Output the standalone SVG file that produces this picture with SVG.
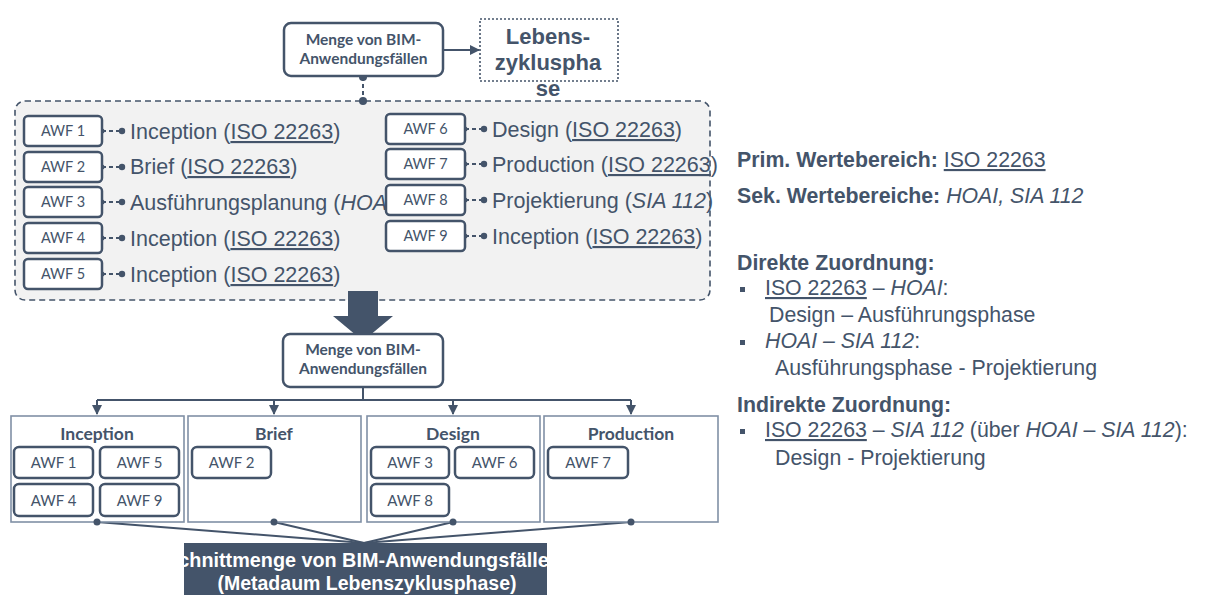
<svg xmlns="http://www.w3.org/2000/svg" width="1209" height="595" viewBox="0 0 1209 595">
<defs>
<style>
.t{fill:#44546A;font-family:"Liberation Sans",Arial,sans-serif}
.lab{font-size:21.5px}
.rt{font-size:21.3px}
.b{font-weight:bold}
.i{font-style:italic}
.u{text-decoration:underline}
.c{font-family:Lato,"Open Sans",sans-serif;fill:#44546A}
.awf{fill:#fff;stroke:#44546A;stroke-width:2.5}
.col{fill:#fff;stroke:#8090A6;stroke-width:1.6}
.ln{stroke:#44546A;stroke-width:2;fill:none}
.dl{stroke:#44546A;stroke-width:2;fill:none;stroke-dasharray:4 3}
.dot{fill:#44546A}
</style>
<marker id="ah" viewBox="0 0 10 10" refX="9" refY="5" markerWidth="5" markerHeight="5" orient="auto">
<path d="M0,0 L10,5 L0,10 z" fill="#44546A"/>
</marker>
</defs>
<rect width="1209" height="595" fill="#fff"/>

<g id="container">
<rect x="15" y="101" width="695" height="199" rx="10" fill="#F2F2F2"/>
</g>

<g id="connectors">
<line class="ln" x1="443" y1="50" x2="479" y2="50" marker-end="url(#ah)"/>
<line class="dl" x1="363" y1="77" x2="363" y2="101"/>
<circle class="dot" cx="363" cy="77" r="4"/>
<circle class="dot" cx="363" cy="101" r="4"/>
<g>
<line class="dl" x1="102" y1="131" x2="122" y2="131"/><circle class="dot" cx="102" cy="131" r="2.5"/><circle class="dot" cx="122" cy="131" r="3.2"/>
<line class="dl" x1="102" y1="167" x2="122" y2="167"/><circle class="dot" cx="102" cy="167" r="2.5"/><circle class="dot" cx="122" cy="167" r="3.2"/>
<line class="dl" x1="102" y1="202" x2="122" y2="202"/><circle class="dot" cx="102" cy="202" r="2.5"/><circle class="dot" cx="122" cy="202" r="3.2"/>
<line class="dl" x1="102" y1="238" x2="122" y2="238"/><circle class="dot" cx="102" cy="238" r="2.5"/><circle class="dot" cx="122" cy="238" r="3.2"/>
<line class="dl" x1="102" y1="274" x2="122" y2="274"/><circle class="dot" cx="102" cy="274" r="2.5"/><circle class="dot" cx="122" cy="274" r="3.2"/>
</g>
<g>
<line class="dl" x1="465" y1="129" x2="484" y2="129"/><circle class="dot" cx="465" cy="129" r="2.5"/><circle class="dot" cx="484" cy="129" r="3.2"/>
<line class="dl" x1="465" y1="164" x2="484" y2="164"/><circle class="dot" cx="465" cy="164" r="2.5"/><circle class="dot" cx="484" cy="164" r="3.2"/>
<line class="dl" x1="465" y1="200" x2="484" y2="200"/><circle class="dot" cx="465" cy="200" r="2.5"/><circle class="dot" cx="484" cy="200" r="3.2"/>
<line class="dl" x1="465" y1="236" x2="484" y2="236"/><circle class="dot" cx="465" cy="236" r="2.5"/><circle class="dot" cx="484" cy="236" r="3.2"/>
</g>
<polyline class="ln" points="363,387 363,400"/>
<line class="ln" x1="97" y1="400" x2="631" y2="400"/>
<line class="ln" x1="97" y1="400" x2="97" y2="414" marker-end="url(#ah)"/>
<line class="ln" x1="274" y1="400" x2="274" y2="414" marker-end="url(#ah)"/>
<line class="ln" x1="453" y1="400" x2="453" y2="414" marker-end="url(#ah)"/>
<line class="ln" x1="631" y1="400" x2="631" y2="414" marker-end="url(#ah)"/>
<line class="ln" x1="97" y1="522" x2="364" y2="543"/>
<line class="ln" x1="274" y1="522" x2="364" y2="543"/>
<line class="ln" x1="453" y1="522" x2="364" y2="543"/>
<line class="ln" x1="631" y1="522" x2="364" y2="543"/>
</g>

<g id="menge-top">
<rect x="284" y="23" width="159" height="53" rx="7" fill="#fff" stroke="#44546A" stroke-width="2.5"/>
<text class="c" x="363.5" y="45" font-size="15.5" font-weight="bold" text-anchor="middle">Menge von BIM-</text>
<text class="c" x="363.5" y="64" font-size="15.5" font-weight="bold" text-anchor="middle">Anwendungsfällen</text>
</g>

<g id="lebenszyklusphase">
<rect x="480" y="19" width="138" height="62" fill="#fff" stroke="#44546A" stroke-width="1.6" stroke-dasharray="2 2"/>
<text class="t b" x="548" y="44" font-size="22" text-anchor="middle">Lebens-</text>
<text class="t b" x="548" y="70" font-size="22" text-anchor="middle">zykluspha</text>
<text class="t b" x="548" y="96" font-size="22" text-anchor="middle">se</text>
</g>

<g id="labels-left">
<text class="t lab" x="130" y="139">Inception (<tspan class="u">ISO 22263</tspan>)</text>
<text class="t lab" x="130" y="174">Brief (<tspan class="u">ISO 22263</tspan>)</text>
<text class="t lab" x="130" y="210">Ausführungsplanung (<tspan class="i">HOAI</tspan>)</text>
<text class="t lab" x="130" y="246">Inception (<tspan class="u">ISO 22263</tspan>)</text>
<text class="t lab" x="130" y="282">Inception (<tspan class="u">ISO 22263</tspan>)</text>
</g>
<g id="labels-right">
<text class="t lab" x="492" y="137">Design (<tspan class="u">ISO 22263</tspan>)</text>
<text class="t lab" x="492" y="172">Production (<tspan class="u">ISO 22263</tspan>)</text>
<text class="t lab" x="492" y="208">Projektierung (<tspan class="i">SIA 112</tspan>)</text>
<text class="t lab" x="492" y="244">Inception (<tspan class="u">ISO 22263</tspan>)</text>
</g>

<g id="awf-top-left">
<g id="awf1-top"><rect class="awf" x="24" y="116" width="78" height="30" rx="4"/><text class="c" x="63" y="136" font-size="14.5" text-anchor="middle">AWF 1</text></g>
<g id="awf2-top"><rect class="awf" x="24" y="152" width="78" height="30" rx="4"/><text class="c" x="63" y="172" font-size="14.5" text-anchor="middle">AWF 2</text></g>
<g id="awf3-top"><rect class="awf" x="24" y="187" width="78" height="30" rx="4"/><text class="c" x="63" y="207" font-size="14.5" text-anchor="middle">AWF 3</text></g>
<g id="awf4-top"><rect class="awf" x="24" y="223" width="78" height="30" rx="4"/><text class="c" x="63" y="243" font-size="14.5" text-anchor="middle">AWF 4</text></g>
<g id="awf5-top"><rect class="awf" x="24" y="259" width="78" height="30" rx="4"/><text class="c" x="63" y="279" font-size="14.5" text-anchor="middle">AWF 5</text></g>
</g>
<g id="awf-top-right">
<g id="awf6-top"><rect class="awf" x="386" y="114" width="79" height="30" rx="4"/><text class="c" x="425.5" y="134" font-size="14.5" text-anchor="middle">AWF 6</text></g>
<g id="awf7-top"><rect class="awf" x="386" y="149" width="79" height="30" rx="4"/><text class="c" x="425.5" y="169" font-size="14.5" text-anchor="middle">AWF 7</text></g>
<g id="awf8-top"><rect class="awf" x="386" y="185" width="79" height="30" rx="4"/><text class="c" x="425.5" y="205" font-size="14.5" text-anchor="middle">AWF 8</text></g>
<g id="awf9-top"><rect class="awf" x="386" y="221" width="79" height="30" rx="4"/><text class="c" x="425.5" y="241" font-size="14.5" text-anchor="middle">AWF 9</text></g>
</g>

<g id="container-border">
<rect x="15" y="101" width="695" height="199" rx="10" fill="none" stroke="#44546A" stroke-width="1.6" stroke-dasharray="6 4"/>
</g>

<g id="big-arrow">
<polygon points="348,291 378,291 378,316 393,316 363,341 333,316 348,316" fill="#44546A"/>
</g>

<g id="menge-mid">
<rect x="283" y="334" width="160" height="53" rx="7" fill="#fff" stroke="#44546A" stroke-width="2.5"/>
<text class="c" x="363" y="355" font-size="15.5" font-weight="bold" text-anchor="middle">Menge von BIM-</text>
<text class="c" x="363" y="374" font-size="15.5" font-weight="bold" text-anchor="middle">Anwendungsfällen</text>
</g>

<g id="col-inception">
<rect class="col" x="11" y="416" width="173" height="106"/>
<text class="c" x="97" y="440" font-size="17.5" font-weight="bold" text-anchor="middle">Inception</text>
<rect class="awf" x="14" y="447" width="79" height="31" rx="5"/><text class="c" x="53.5" y="468" font-size="15" text-anchor="middle">AWF 1</text>
<rect class="awf" x="100" y="447" width="79" height="31" rx="5"/><text class="c" x="139.5" y="468" font-size="15" text-anchor="middle">AWF 5</text>
<rect class="awf" x="14" y="484" width="79" height="32" rx="5"/><text class="c" x="53.5" y="506" font-size="15" text-anchor="middle">AWF 4</text>
<rect class="awf" x="100" y="484" width="79" height="32" rx="5"/><text class="c" x="139.5" y="506" font-size="15" text-anchor="middle">AWF 9</text>
</g>
<g id="col-brief">
<rect class="col" x="188" y="416" width="173" height="106"/>
<text class="c" x="274" y="440" font-size="17.5" font-weight="bold" text-anchor="middle">Brief</text>
<rect class="awf" x="192" y="447" width="79" height="31" rx="5"/><text class="c" x="231.5" y="468" font-size="15" text-anchor="middle">AWF 2</text>
</g>
<g id="col-design">
<rect class="col" x="367" y="416" width="173" height="106"/>
<text class="c" x="453" y="440" font-size="17.5" font-weight="bold" text-anchor="middle">Design</text>
<rect class="awf" x="371" y="447" width="78" height="31" rx="5"/><text class="c" x="410" y="468" font-size="15" text-anchor="middle">AWF 3</text>
<rect class="awf" x="455" y="447" width="79" height="31" rx="5"/><text class="c" x="494.5" y="468" font-size="15" text-anchor="middle">AWF 6</text>
<rect class="awf" x="371" y="484" width="78" height="32" rx="5"/><text class="c" x="410" y="506" font-size="15" text-anchor="middle">AWF 8</text>
</g>
<g id="col-production">
<rect class="col" x="544" y="416" width="174" height="106"/>
<text class="c" x="631" y="440" font-size="17.5" font-weight="bold" text-anchor="middle">Production</text>
<rect class="awf" x="548" y="447" width="80" height="31" rx="5"/><text class="c" x="588" y="468" font-size="15" text-anchor="middle">AWF 7</text>
</g>

<g id="bottom-dots">
<circle class="dot" cx="97" cy="522" r="3.5"/>
<circle class="dot" cx="274" cy="522" r="3.5"/>
<circle class="dot" cx="453" cy="522" r="3.5"/>
<circle class="dot" cx="631" cy="522" r="3.5"/>
</g>

<g id="schnittmenge">
<rect x="184" y="543" width="363" height="52" fill="#44546A"/>
<text x="363" y="567" font-family="Liberation Sans,Arial,sans-serif" font-weight="bold" font-size="19.8" fill="#fff" text-anchor="middle">Schnittmenge von BIM-Anwendungsfällen</text>
<text x="367" y="590" font-family="Liberation Sans,Arial,sans-serif" font-weight="bold" font-size="19.5" fill="#fff" text-anchor="middle">(Metadaum Lebenszyklusphase)</text>
</g>

<g id="notes">
<text class="t rt" x="737" y="167"><tspan class="b">Prim. Wertebereich: </tspan><tspan class="u">ISO 22263</tspan></text>
<text class="t rt" x="737" y="203"><tspan class="b">Sek. Wertebereiche: </tspan><tspan class="i">HOAI, SIA 112</tspan></text>
<text class="t rt b" x="737" y="270">Direkte Zuordnung:</text>
<rect x="740" y="287" width="5" height="5" fill="#44546A"/>
<text class="t rt" x="765" y="295"><tspan class="u">ISO 22263</tspan> – <tspan class="i">HOAI</tspan>:</text>
<text class="t rt" x="769" y="322">Design – Ausführungsphase</text>
<rect x="740" y="340" width="5" height="5" fill="#44546A"/>
<text class="t rt" x="765" y="348"><tspan class="i">HOAI – SIA 112</tspan>:</text>
<text class="t rt" x="775" y="375">Ausführungsphase - Projektierung</text>
<text class="t rt b" x="737" y="412">Indirekte Zuordnung:</text>
<rect x="740" y="429" width="5" height="5" fill="#44546A"/>
<text class="t rt" x="765" y="437"><tspan class="u">ISO 22263</tspan> – <tspan class="i">SIA 112</tspan> (über <tspan class="i">HOAI</tspan> – <tspan class="i">SIA 112</tspan>):</text>
<text class="t rt" x="775" y="465">Design - Projektierung</text>
</g>
</svg>
